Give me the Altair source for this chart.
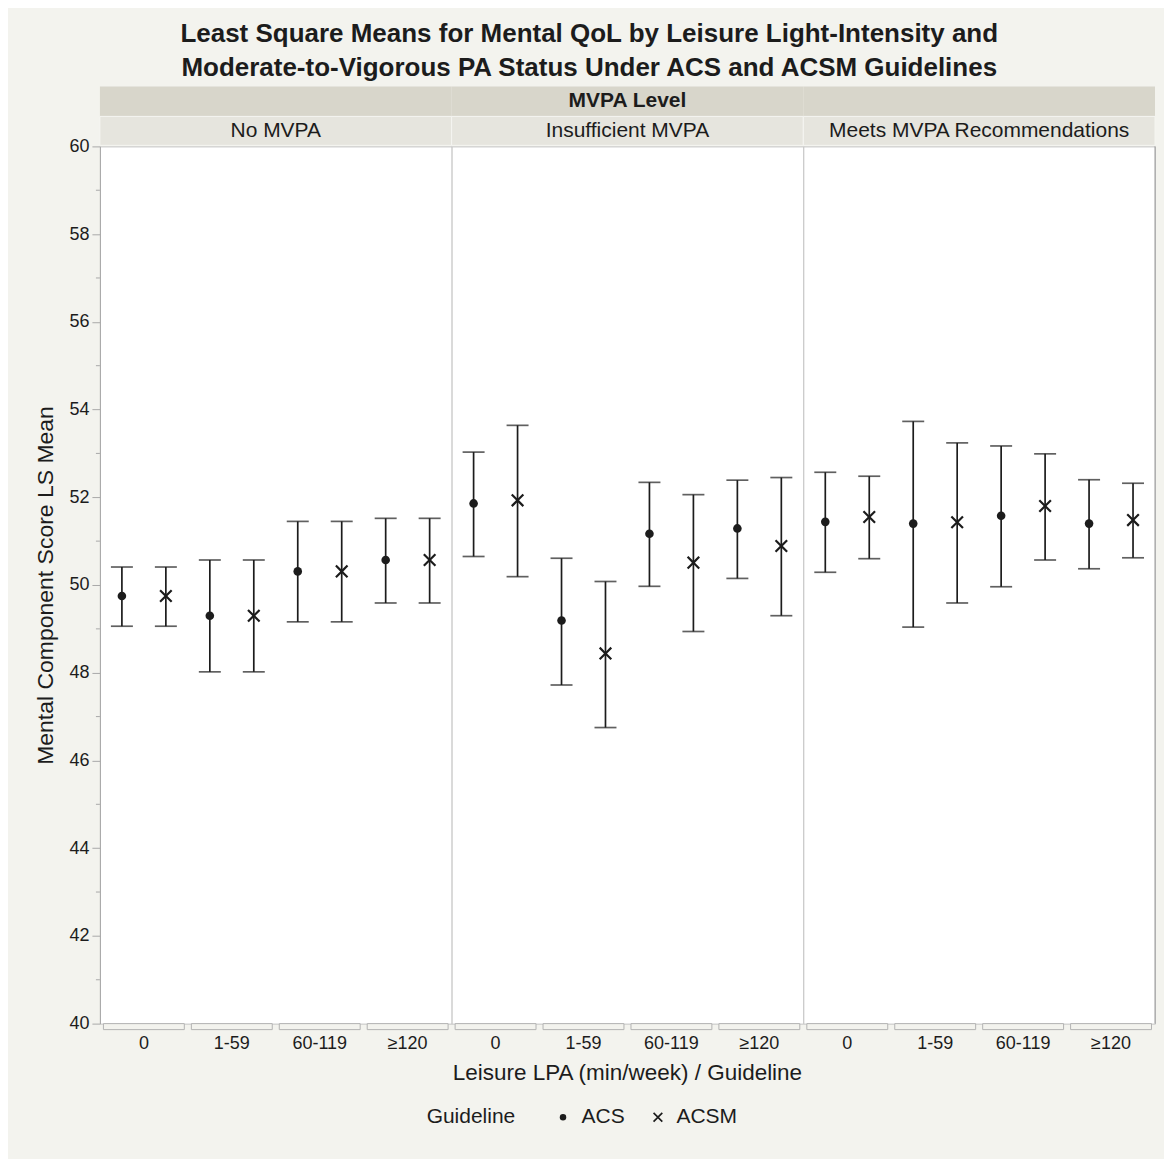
import altair as alt
import pandas as pd

# ---------------- data ----------------
mvpa_levels = ["No MVPA", "Insufficient MVPA", "Meets MVPA Recommendations"]
lpa_levels = ["0", "1-59", "60-119", "≥120"]
guidelines = ["ACS", "ACSM"]

# 12 values each: 4 LPA levels within No MVPA, Insufficient MVPA, Meets MVPA
acs_mean = [49.75, 49.30, 50.31, 50.57, 51.86, 49.19, 51.17, 51.29, 51.44, 51.40, 51.58, 51.40]
acs_lower = [49.06, 48.02, 49.16, 49.59, 50.65, 47.72, 49.97, 50.15, 50.29, 49.04, 49.96, 50.37]
acs_upper = [50.41, 50.57, 51.45, 51.52, 53.03, 50.61, 52.34, 52.39, 52.57, 53.73, 53.17, 52.40]
acsm_mean = [49.75, 49.30, 50.31, 50.57, 51.93, 48.44, 50.51, 50.89, 51.55, 51.43, 51.80, 51.48]
acsm_lower = [49.06, 48.02, 49.16, 49.59, 50.19, 46.75, 48.94, 49.30, 50.60, 49.59, 50.57, 50.62]
acsm_upper = [50.41, 50.57, 51.45, 51.52, 53.64, 50.08, 52.06, 52.45, 52.48, 53.24, 52.99, 52.32]

y_major = [40, 42, 44, 46, 48, 50, 52, 54, 56, 58, 60]
y_minor = [41, 43, 45, 47, 49, 51, 53, 55, 57, 59]

title_lines = [
    "Least Square Means for Mental QoL by Leisure Light-Intensity and",
    "Moderate-to-Vigorous PA Status Under ACS and ACSM Guidelines",
]

# ---------------- table ----------------
rows = []
k = 0
for m in mvpa_levels:
    for lpa in lpa_levels:
        rows.append(dict(MVPA=m, LPA=lpa, Guideline="ACS",
                         mean=acs_mean[k], lower=acs_lower[k], upper=acs_upper[k]))
        rows.append(dict(MVPA=m, LPA=lpa, Guideline="ACSM",
                         mean=acsm_mean[k], lower=acsm_lower[k], upper=acsm_upper[k]))
        k += 1
df = pd.DataFrame(rows)

# ---------------- style ----------------
FONT = "Liberation Sans"
INK = "#1c1c1c"
BG = "#f3f3ee"
BAND1 = "#d8d6cb"
BAND2 = "#e6e5de"
FRAME = "#c4c4c4"
AXIS = "#a9a9a9"
W = 352
H = 878
# filled "×" outline (so it renders as a filled symbol, also in the legend)
XPATH = ("M0,-0.36L1.17,-1.53L1.53,-1.17L0.36,0L1.53,1.17L1.17,1.53"
         "L0,0.36L-1.17,1.53L-1.53,1.17L-0.36,0L-1.53,-1.17L-1.17,-1.53Z")

yscale = alt.Scale(domain=[40, 60], nice=False, zero=False)
xscale = alt.Scale(domain=lpa_levels, paddingInner=0, paddingOuter=0)
xoscale = alt.Scale(domain=guidelines, paddingInner=0, paddingOuter=0)
shape_scale = alt.Scale(domain=guidelines, range=["circle", XPATH])

xaxis = alt.Axis(title=None, labelAngle=0, domain=False, ticks=False,
                 labelPadding=11, labelFontSize=18, labelFont=FONT,
                 labelColor=INK)
yaxis = alt.Axis(values=y_major, title="Mental Component Score LS Mean",
                 titleFontSize=23, titleFont=FONT, titleFontWeight="normal",
                 titleColor=INK, titlePadding=11, labelFontSize=18,
                 labelFont=FONT, labelColor=INK, labelPadding=3, tickSize=8,
                 tickColor=AXIS, domainColor=AXIS, grid=False)

legend = alt.Legend(orient="none", legendX=-25, legendY=961,
                    direction="horizontal", title="Guideline",
                    titleOrient="left", titleFontSize=21, titleFont=FONT,
                    titleFontWeight="normal", titleColor=INK,
                    titlePadding=37, labelFontSize=21, labelFont=FONT,
                    labelColor=INK, labelOffset=8, columnPadding=22,
                    symbolSize=42, symbolFillColor=INK,
                    symbolStrokeWidth=0, symbolOpacity=1)


def panel(i, level):
    sub = df[df["MVPA"] == level]
    base = alt.Chart(sub)
    yax = yaxis if i == 0 else None
    xenc = alt.X("LPA:N", sort=lpa_levels, scale=xscale, axis=xaxis)
    xo = alt.XOffset("Guideline:N", sort=guidelines, scale=xoscale)

    layers = []
    hdr = alt.Chart(pd.DataFrame({"label": [level]}))
    layers.append(hdr.mark_rect(fill=BAND1).encode(
        x=alt.value(0), x2=alt.value(W), y=alt.value(-60), y2=alt.value(-30)))
    layers.append(hdr.mark_rect(fill=BAND2, stroke="#f5f5f1", strokeWidth=1).encode(
        x=alt.value(0), x2=alt.value(W), y=alt.value(-30), y2=alt.value(-1)))
    layers.append(hdr.mark_text(font=FONT, fontSize=21, color=INK, baseline="middle").encode(
        x=alt.value(W / 2), y=alt.value(-15), text="label:N"))
    if i == 1:
        layers.append(alt.Chart(pd.DataFrame({"t": ["MVPA Level"]})).mark_text(
            font=FONT, fontSize=21, fontWeight="bold", color=INK, baseline="middle").encode(
            x=alt.value(W / 2), y=alt.value(-45), text="t:N"))
        layers.append(alt.Chart(pd.DataFrame({"t": ["Leisure LPA (min/week) / Guideline"]})).mark_text(
            font=FONT, fontSize=22.5, color=INK, baseline="middle").encode(
            x=alt.value(W / 2), y=alt.value(H + 49), text="t:N"))
    if i == 0:
        layers.append(alt.Chart(pd.DataFrame({"v": y_minor})).mark_rule(
            color=AXIS, strokeWidth=1).encode(
            y=alt.Y("v:Q", scale=yscale, axis=yax), x=alt.value(-4), x2=alt.value(0)))
    if i == 2:
        layers.append(hdr.mark_rule(color="#9c9c9c", strokeWidth=1).encode(
            x=alt.value(W), y=alt.value(0), y2=alt.value(H)))

    # brackets under each LPA group
    layers.append(alt.Chart(pd.DataFrame({"LPA": lpa_levels})).mark_bar(
        width=alt.RelativeBandSize(0.92), fill=BG, stroke="#b3b3b3", strokeWidth=1).encode(
        x=xenc, y=alt.value(H), y2=alt.value(H + 6)))

    layers.append(base.mark_rule(color=INK, strokeWidth=1.7).encode(
        x=xenc, xOffset=xo,
        y=alt.Y("lower:Q", scale=yscale, axis=yax), y2="upper:Q"))
    layers.append(base.mark_tick(size=22, thickness=1.7, color=INK, orient="horizontal").encode(
        x=xenc, xOffset=xo, y=alt.Y("upper:Q", scale=yscale, axis=yax)))
    layers.append(base.mark_tick(size=22, thickness=1.7, color=INK, orient="horizontal").encode(
        x=xenc, xOffset=xo, y=alt.Y("lower:Q", scale=yscale, axis=yax)))
    layers.append(base.mark_point(filled=True, size=74, color=INK, opacity=1).encode(
        x=xenc, xOffset=xo,
        y=alt.Y("mean:Q", scale=yscale, axis=yax),
        shape=alt.Shape("Guideline:N", scale=shape_scale,
                        legend=legend if i == 1 else None)))
    return alt.layer(*layers).properties(width=W, height=H)


chart = alt.hconcat(
    *[panel(i, m) for i, m in enumerate(mvpa_levels)],
    spacing=0, bounds="flush",
).resolve_scale(shape="independent").resolve_legend(shape="independent").properties(
    title=alt.TitleParams(title_lines, font=FONT, fontSize=26, fontWeight="bold",
                          color=INK, anchor="middle", lineHeight=34, offset=5, dx=-6),
    background=BG,
    padding={"left": 26, "top": 12, "right": 8, "bottom": 30},
).configure_view(stroke=FRAME, strokeWidth=1, fill="white")

chart.save("out.html", embed_options={"renderer": "svg", "actions": False})
